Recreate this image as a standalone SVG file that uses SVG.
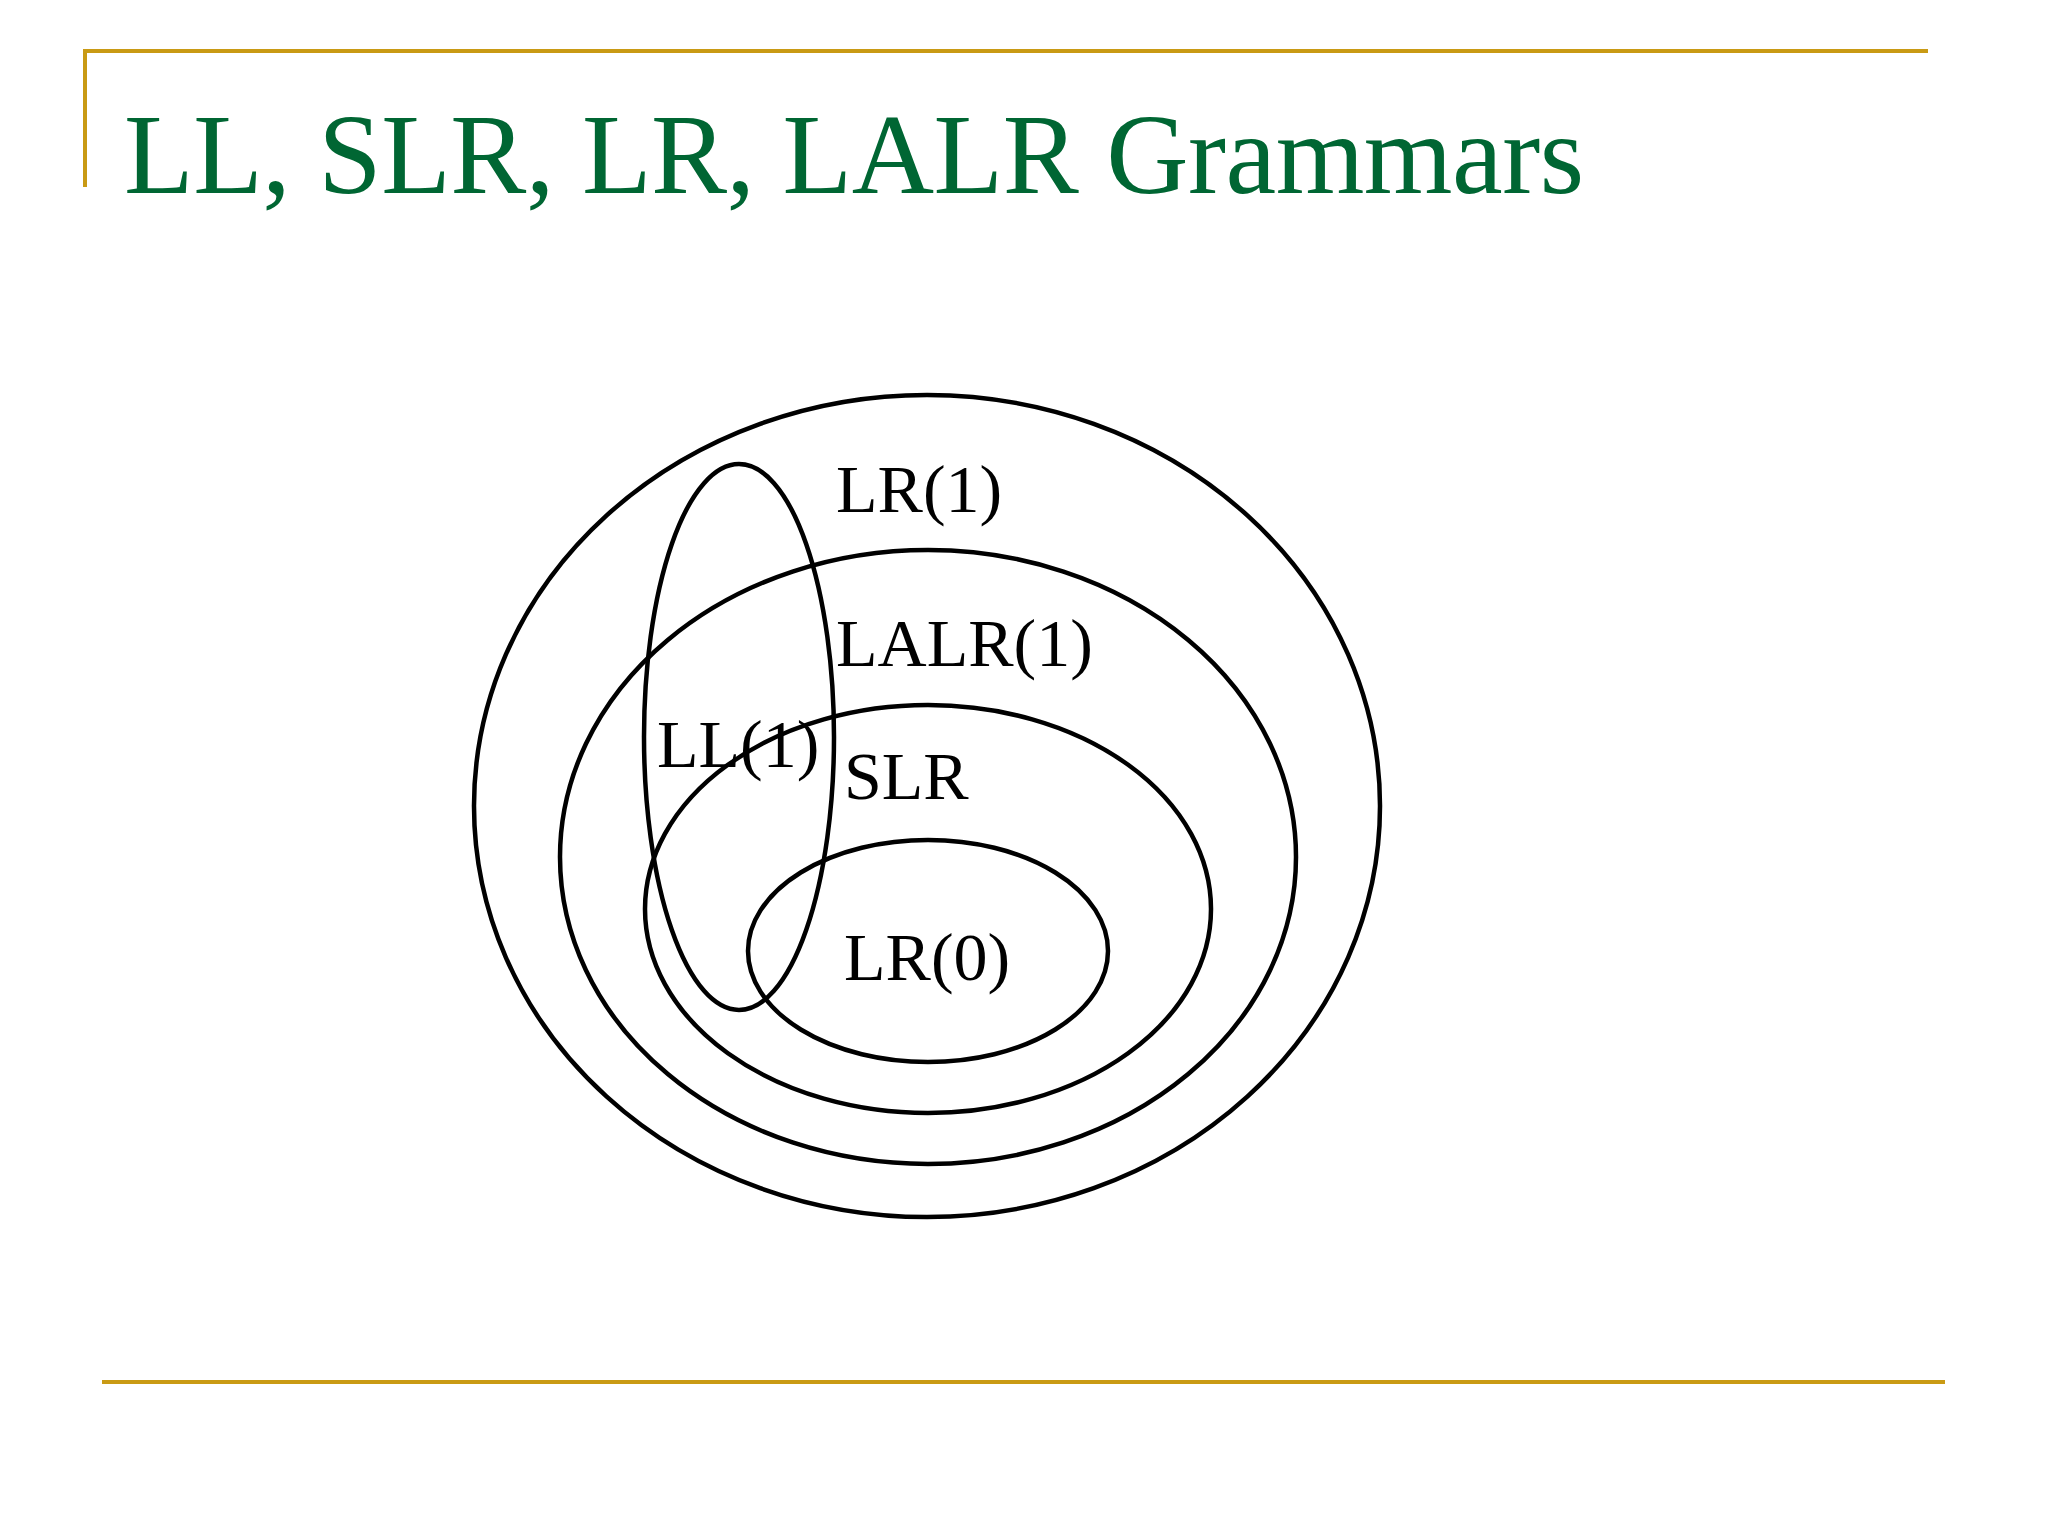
<svg xmlns="http://www.w3.org/2000/svg" width="2048" height="1536" viewBox="0 0 2048 1536">
<style>
.rule{stroke:#C99A14;stroke-width:4;fill:none}
.set{fill:none;stroke:#000;stroke-width:4.5}
.lbl{font-family:"Liberation Serif","Times New Roman",serif;font-size:68px;fill:#000}
.title{font-family:"Liberation Serif","Times New Roman",serif;font-size:114px;fill:#006633}
</style>
<rect width="2048" height="1536" fill="#fff"/>
<g id="frame">
<line class="rule" x1="85" y1="51" x2="1928" y2="51"/>
<line class="rule" x1="85" y1="49" x2="85" y2="187"/>
<line class="rule" x1="102" y1="1382" x2="1945" y2="1382"/>
</g>
<text class="title" x="124" y="193" textLength="1460" lengthAdjust="spacing">LL, SLR, LR, LALR Grammars</text>
<g id="connectors"></g>
<g id="lr1"><ellipse class="set" cx="927" cy="806" rx="453" ry="411"/><text class="lbl" x="836" y="512">LR(1)</text></g>
<g id="lalr1"><ellipse class="set" cx="928" cy="857" rx="368" ry="307"/><text class="lbl" x="836" y="666">LALR(1)</text></g>
<g id="slr"><ellipse class="set" cx="928" cy="909" rx="283" ry="204"/><text class="lbl" x="844" y="799">SLR</text></g>
<g id="lr0"><ellipse class="set" cx="928" cy="951" rx="180" ry="111"/><text class="lbl" x="844" y="980">LR(0)</text></g>
<g id="ll1"><ellipse class="set" cx="739" cy="737" rx="95" ry="273"/><text class="lbl" x="657" y="767">LL(1)</text></g>
</svg>
